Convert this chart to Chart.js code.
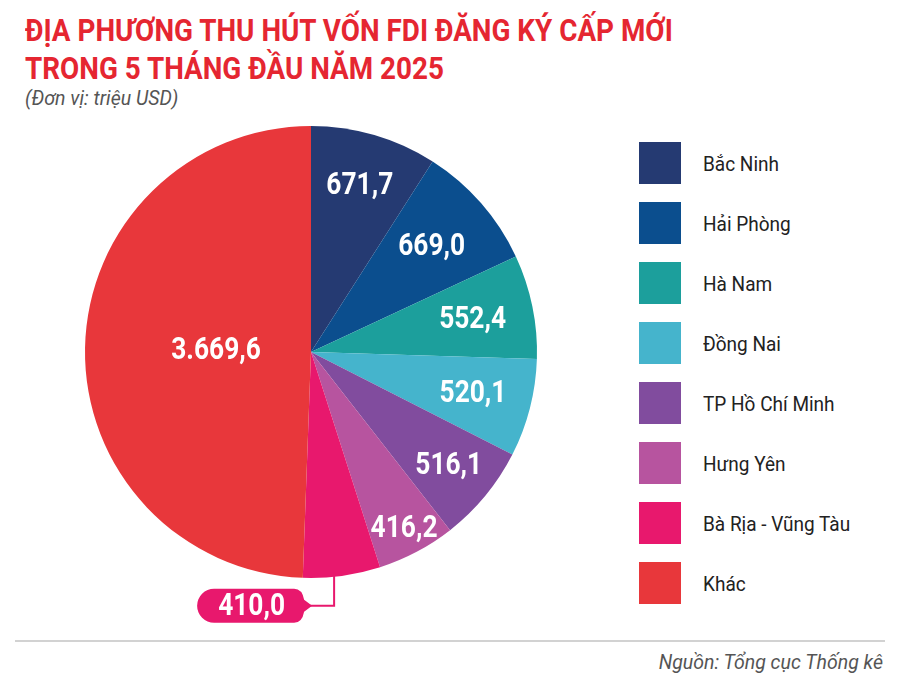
<!DOCTYPE html>
<html>
<head>
<meta charset="utf-8">
<script src="https://cdn.jsdelivr.net/npm/chart.js@4.4.1/dist/chart.umd.min.js"></script>
<style>
  body { margin: 0; background: #fff; font-family: Roboto, sans-serif; }
  #page { position: relative; width: 900px; height: 681px; overflow: hidden; }
  .title { position: absolute; left: 25px; color: #e52631; font: bold 32px Roboto; white-space: nowrap; transform-origin: left top; }
  #sub { position: absolute; left: 25px; top: 87px; color: #555; font: italic 19.5px Roboto; }
  #wrap { position: absolute; left: 0; top: 120px; width: 600px; height: 520px; }
  #legend { position: absolute; left: 639px; top: 142px; }
  .item { position: relative; height: 60px; }
  .box { position: absolute; left: 0; top: 0; width: 42px; height: 42px; }
  .lab { position: absolute; left: 64px; top: 10px; font: 20px Roboto; color: #222; white-space: nowrap; transform: scaleX(0.95); transform-origin: left top; }
  #rule { position: absolute; left: 15px; top: 640px; width: 870px; height: 2px; background: #d2d2d2; }
  #src { position: absolute; right: 17px; top: 651px; color: #555; font: italic 19.5px Roboto; }
</style>
</head>
<body>
<div id="page">
  <div class="title" id="t1" style="top:11px">ĐỊA PHƯƠNG THU HÚT VỐN FDI ĐĂNG KÝ CẤP MỚI</div>
  <div class="title" id="t2" style="top:49px">TRONG 5 THÁNG ĐẦU NĂM 2025</div>
  <div id="sub">(Đơn vị: triệu USD)</div>
  <div id="wrap"><canvas id="myChart"></canvas></div>
  <div id="legend"></div>
  <div id="rule"></div>
  <div id="src">Nguồn: Tổng cục Thống kê</div>
</div>
<script>
var regions = ["Bắc Ninh", "Hải Phòng", "Hà Nam", "Đồng Nai", "TP Hồ Chí Minh", "Hưng Yên", "Bà Rịa - Vũng Tàu", "Khác"];
var capital = [671.7, 669.0, 552.4, 520.1, 516.1, 416.2, 410.0, 3669.6];
var colors = ["#253a72", "#0b4e8e", "#1c9f9c", "#45b4cc", "#814c9e", "#b7549f", "#e8186d", "#e8373b"];

// squeeze the title to the condensed width of the original
var t1 = document.getElementById("t1"), t2 = document.getElementById("t2");
var k = 648 / t1.getBoundingClientRect().width;
t1.style.transform = "scaleX(" + k + ")";
t2.style.transform = "scaleX(" + k + ")";

var legend = document.getElementById("legend");
regions.forEach(function (r, i) {
  legend.innerHTML += '<div class="item"><div class="box" style="background:' + colors[i] + '"></div><div class="lab">' + r + '</div></div>';
});

function fmt(v) {
  var s = v.toFixed(1).split(".");
  return s[0].replace(/\B(?=(\d{3})+(?!\d))/g, ".") + "," + s[1];
}

// label radius as fraction of the pie radius, per slice
var labelPos = [0.77, 0.71, 0.73, 0.74, 0.79, 0.88, null, 0.42];

var valueLabels = {
  id: "valueLabels",
  afterDatasetsDraw: function (chart) {
    var ctx = chart.ctx;
    var arcs = chart.getDatasetMeta(0).data;
    ctx.save();
    ctx.font = "bold 31px Roboto";
    ctx.fillStyle = "#fff";
    ctx.textAlign = "center";
    ctx.textBaseline = "middle";
    arcs.forEach(function (a, i) {
      var txt = fmt(capital[i]);
      if (labelPos[i] === null) {
        // callout
        var ang = a.startAngle + 0.6 * (a.endAngle - a.startAngle);
        var px = a.x + a.outerRadius * Math.cos(ang);
        var py = a.y + a.outerRadius * Math.sin(ang);
        var ly = py + 29;
        ctx.strokeStyle = colors[i];
        ctx.lineWidth = 2;
        ctx.beginPath();
        ctx.moveTo(px, py - 4);
        ctx.lineTo(px, ly);
        ctx.lineTo(px - 26, ly);
        ctx.stroke();
        var x0 = px - 137, x1 = px - 32, h = 34, rr = 17;
        ctx.fillStyle = colors[i];
        ctx.beginPath();
        ctx.moveTo(x0 + rr, ly - h / 2);
        ctx.lineTo(x1 - 8, ly - h / 2);
        ctx.quadraticCurveTo(x1, ly - h / 2, x1 + 2, ly - 6);
        ctx.lineTo(px - 22, ly);
        ctx.lineTo(x1 + 2, ly + 6);
        ctx.quadraticCurveTo(x1, ly + h / 2, x1 - 8, ly + h / 2);
        ctx.lineTo(x0 + rr, ly + h / 2);
        ctx.arc(x0 + rr, ly, rr, Math.PI / 2, Math.PI * 1.5);
        ctx.closePath();
        ctx.fill();
        ctx.fillStyle = "#fff";
        ctx.save();
        ctx.translate((x0 + x1) / 2 + 2, ly + 1);
        ctx.scale(0.85, 1);
        ctx.fillText(txt, 0, 0);
        ctx.restore();
        return;
      }
      var mid = (a.startAngle + a.endAngle) / 2;
      var r = a.outerRadius * labelPos[i];
      ctx.save();
      ctx.translate(a.x + r * Math.cos(mid), a.y + r * Math.sin(mid) + 1);
      ctx.scale(0.85, 1);
      ctx.fillText(txt, 0, 0);
      ctx.restore();
    });
    ctx.restore();
  }
};

var chart = new Chart(document.getElementById("myChart").getContext("2d"), {
  type: "pie",
  data: {
    labels: regions,
    datasets: [{
      data: capital,
      backgroundColor: colors,
      borderWidth: 0
    }]
  },
  options: {
    responsive: true,
    maintainAspectRatio: false,
    animation: false,
    layout: { padding: { left: 85, top: 6, right: 63, bottom: 62 } },
    plugins: {
      legend: { display: false },
      tooltip: { enabled: false }
    }
  },
  plugins: [valueLabels]
});
</script>
</body>
</html>
